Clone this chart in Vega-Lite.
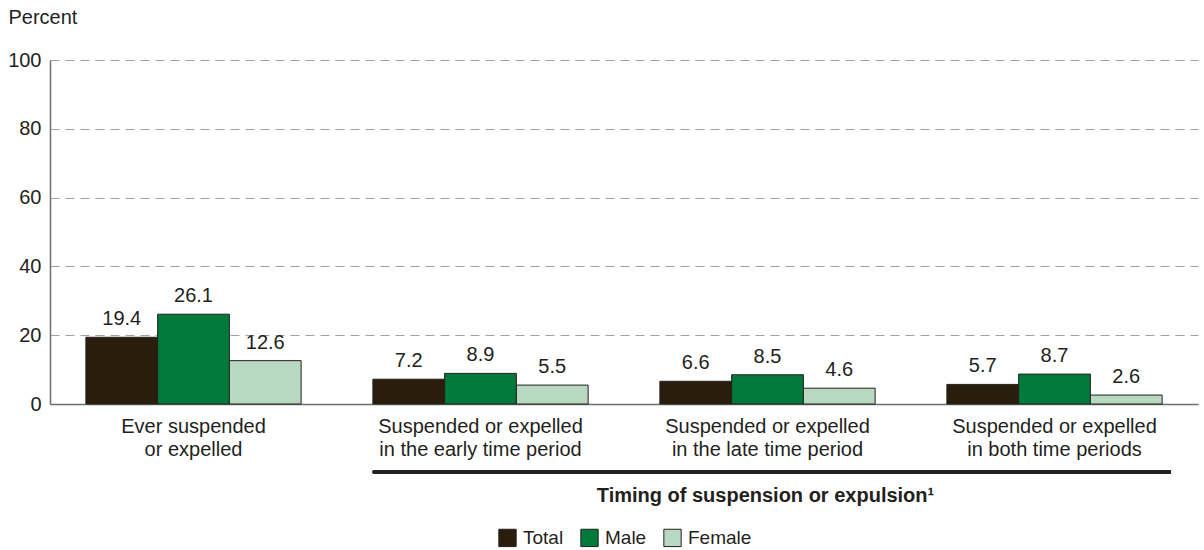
{
  "$schema": "https://vega.github.io/schema/vega-lite/v6.json",
  "width": 1148,
  "height": 344,
  "autosize": {"type": "none"},
  "padding": {"left": 50, "top": 60, "right": 6, "bottom": 146},
  "config": {
    "font": "Liberation Sans",
    "view": {"stroke": null},
    "axis": {"labelColor": "#231f20", "titleColor": "#231f20"}
  },
  "data": {
    "values": [
      {"cat": "Ever suspended|or expelled", "sex": "Total", "pct": 19.4},
      {"cat": "Ever suspended|or expelled", "sex": "Male", "pct": 26.1},
      {"cat": "Ever suspended|or expelled", "sex": "Female", "pct": 12.6},
      {"cat": "Suspended or expelled|in the early time period", "sex": "Total", "pct": 7.2},
      {"cat": "Suspended or expelled|in the early time period", "sex": "Male", "pct": 8.9},
      {"cat": "Suspended or expelled|in the early time period", "sex": "Female", "pct": 5.5},
      {"cat": "Suspended or expelled|in the late time period", "sex": "Total", "pct": 6.6},
      {"cat": "Suspended or expelled|in the late time period", "sex": "Male", "pct": 8.5},
      {"cat": "Suspended or expelled|in the late time period", "sex": "Female", "pct": 4.6},
      {"cat": "Suspended or expelled|in both time periods", "sex": "Total", "pct": 5.7},
      {"cat": "Suspended or expelled|in both time periods", "sex": "Male", "pct": 8.7},
      {"cat": "Suspended or expelled|in both time periods", "sex": "Female", "pct": 2.6}
    ]
  },
  "layer": [
    {
      "mark": {"type": "bar", "stroke": "#231f20", "strokeWidth": 1},
      "encoding": {
        "x": {
          "field": "cat", "type": "nominal", "sort": null,
          "scale": {"paddingInner": 0.25, "paddingOuter": 0.125},
          "axis": {
            "labelAngle": 0, "labelFontSize": 20, "labelBaseline": "top", "labelPadding": 12,
            "labelLineHeight": 23, "labelLimit": 0, "labelExpr": "split(datum.label, '|')",
            "ticks": false, "domainColor": "#6d6d6d", "domainWidth": 1.5,
            "title": "Timing of suspension or expulsion¹", "titleFontSize": 20, "titleFontWeight": "bold",
            "titleX": 715, "titleY": 97, "titleAlign": "center", "titleBaseline": "alphabetic"
          }
        },
        "xOffset": {"field": "sex", "sort": ["Total", "Male", "Female"]},
        "y": {
          "field": "pct", "type": "quantitative",
          "scale": {"domain": [0, 100], "nice": false},
          "axis": {
            "values": [0, 20, 40, 60, 80, 100], "labelFontSize": 20, "labelPadding": 9, "ticks": false,
            "domainColor": "#6d6d6d", "domainWidth": 1.5,
            "grid": true, "gridDash": [9, 6], "gridColor": "#a0a0a0", "gridWidth": 1,
            "title": "Percent", "titleAngle": 0, "titleFontSize": 20, "titleFontWeight": "normal",
            "titleAlign": "left", "titleBaseline": "alphabetic", "titleX": -42, "titleY": -37
          }
        },
        "color": {
          "field": "sex", "type": "nominal",
          "scale": {"domain": ["Total", "Male", "Female"], "range": ["#2a1d0c", "#007a3a", "#b8d8c2"]},
          "legend": {
            "title": null, "orient": "none", "direction": "horizontal", "legendX": 448, "legendY": 468,
            "symbolType": "square", "symbolSize": 300, "symbolStrokeColor": "#231f20", "symbolStrokeWidth": 1,
            "symbolOpacity": 1, "labelFontSize": 19, "labelColor": "#231f20", "columnPadding": 14, "labelOffset": 6
          }
        }
      }
    },
    {
      "mark": {"type": "text", "baseline": "alphabetic", "dy": -12, "fontSize": 20, "color": "#231f20"},
      "encoding": {
        "x": {"field": "cat", "type": "nominal", "sort": null},
        "xOffset": {"field": "sex", "sort": ["Total", "Male", "Female"]},
        "y": {"field": "pct", "type": "quantitative"},
        "text": {"field": "pct", "type": "quantitative", "format": ".1f"}
      }
    },
    {
      "mark": {"type": "rule", "strokeWidth": 2.5, "color": "#231f20", "clip": false},
      "encoding": {
        "x": {"datum": "Suspended or expelled|in the early time period", "bandPosition": 0},
        "x2": {"datum": "Suspended or expelled|in both time periods", "bandPosition": 1.04},
        "y": {"datum": -19.8}
      }
    }
  ]
}
